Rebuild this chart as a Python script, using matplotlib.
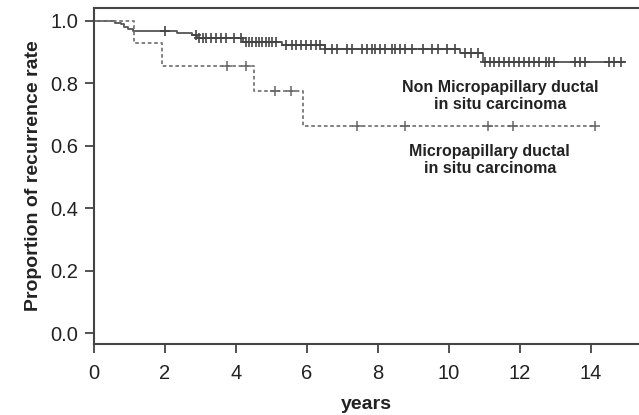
import matplotlib.pyplot as plt
import numpy as np

plt.rcParams['font.family'] = ['Liberation Sans', 'DejaVu Sans']

# Kaplan-Meier step data (time in years, proportion)
non_micro_t = [0, 0.6, 0.75, 0.85, 0.95, 1.1, 2.35, 2.75, 2.9, 4.2, 5.3, 6.5, 10.3, 10.95, 14.93]
non_micro_s = [1.0, 0.995, 0.99, 0.982, 0.975, 0.967, 0.962, 0.955, 0.945, 0.933, 0.922, 0.910, 0.897, 0.868, 0.868]

micro_t = [0, 1.12, 1.93, 4.5, 5.9, 14.1]
micro_s = [1.0, 0.929, 0.857, 0.776, 0.662, 0.662]

# censored observations
non_micro_cens = [2.0, 2.88, 2.97, 3.06, 3.16, 3.3, 3.44, 3.58, 3.72, 3.95, 4.14, 4.28, 4.37,
                  4.46, 4.56, 4.65, 4.74, 4.84, 4.93, 5.02, 5.12, 5.4, 5.58, 5.68, 5.82, 5.96,
                  6.1, 6.24, 6.38, 6.52, 6.7, 6.84, 7.12, 7.26, 7.54, 7.68, 7.82, 7.92, 8.06,
                  8.2, 8.39, 8.48, 8.62, 8.76, 8.95, 9.27, 9.51, 9.69, 9.93, 10.16, 10.44,
                  10.63, 10.81, 11.0, 11.14, 11.28, 11.42, 11.56, 11.7, 11.84, 11.98, 12.12,
                  12.26, 12.4, 12.54, 12.73, 12.82, 12.96, 13.56, 13.7, 13.84, 14.5, 14.64, 14.83]
micro_cens = [3.75, 4.28, 5.1, 5.55, 7.4, 8.75, 11.1, 11.8, 14.1]


def step_value(times, surv, x):
    idx = np.searchsorted(times, x, side='right') - 1
    return np.array(surv)[idx]


fig = plt.figure(figsize=(6.39, 4.15), dpi=100)
ax = fig.add_axes([0.147, 0.171, 0.853, 0.810])

ax.step(non_micro_t, non_micro_s, where='post', color='#555555', lw=1.3)
ax.plot(non_micro_cens, step_value(non_micro_t, non_micro_s, non_micro_cens), ls='none',
        marker='+', ms=7.5, mew=1.2, color='#444444')

ax.step(micro_t, micro_s, where='post', color='#777777', lw=1.3, ls=(0, (2, 1.5)))
ax.plot(micro_cens, step_value(micro_t, micro_s, micro_cens), ls='none',
        marker='+', ms=7.5, mew=1.1, color='#666666')

ax.text(11.45, 0.76, 'Non Micropapillary ductal\nin situ carcinoma', ha='center', va='center',
        fontsize=11.5, fontweight='bold', color='#222222', linespacing=1.2)
ax.text(11.15, 0.555, 'Micropapillary ductal\nin situ carcinoma', ha='center', va='center',
        fontsize=11.5, fontweight='bold', color='#222222', linespacing=1.2)

ax.set_xlim(0, 15.35)
ax.set_ylim(-0.035, 1.042)
ax.set_xticks(np.arange(0, 15, 2))
ax.set_yticks([0.0, 0.2, 0.4, 0.6, 0.8, 1.0])
ax.set_yticklabels(['0.0', '0.2', '0.4', '0.6', '0.8', '1.0'])

for side in ['left', 'bottom', 'top']:
    ax.spines[side].set_color('#444444')
    ax.spines[side].set_linewidth(1.5)
ax.spines['right'].set_visible(False)
ax.tick_params(direction='out', length=6.5, width=1.3, color='#444444', labelsize=14.5,
               labelcolor='#222222', pad=5)
ax.tick_params(axis='x', pad=8)

ax.set_xlabel('years', fontsize=14, fontweight='bold', color='#222222', labelpad=9)
ax.set_ylabel('Proportion of recurrence rate', fontsize=14, fontweight='bold', color='#222222',
              labelpad=6)

fig.savefig('out.png', dpi=100)
